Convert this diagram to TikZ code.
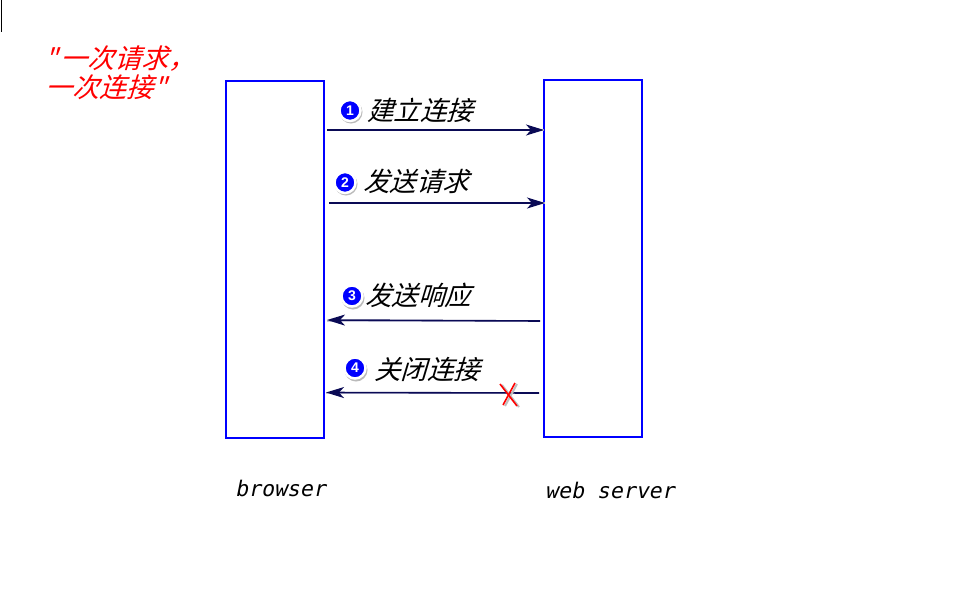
\documentclass[tikz,border=0pt]{standalone}
\usepackage{fontspec}
\usetikzlibrary{arrows.meta,shadows}
\setmainfont{Liberation Sans}
\newfontfamily\cjklabel[FakeSlant=0.3]{Noto Sans CJK SC}
\newfontfamily\monolabel[FakeSlant=0.2]{DejaVu Sans Mono}
\definecolor{navyline}{HTML}{0A0A55}
\definecolor{haze}{HTML}{C8C8DC}
\definecolor{pureblue}{HTML}{0000FF}
\tikzset{
  x=1pt,y=-1pt,
  column/.style={draw=pureblue,line width=2pt,fill=white,minimum width=98pt,minimum height=357pt,inner sep=0pt,outer sep=0pt,anchor=north west},
  msgarrow/.style={draw=navyline,line width=1.6pt,-{Stealth[length=18pt,width=11pt,inset=5pt]}},
  msghalo/.style={draw=haze,line width=2.6pt},
  seqlabel/.style={font=\cjklabel\fontsize{26.5}{26.5}\selectfont,text=black,anchor=west,inner sep=0pt},
  redlabel/.style={font=\cjklabel\fontsize{27}{28}\selectfont,text=red,anchor=west,inner sep=0pt},
  namelabel/.style={font=\monolabel\fontsize{21.5}{21.5}\selectfont,text=black,anchor=west,inner sep=0pt},
  badge/.style={circle,draw=white,line width=2.5pt,fill=pureblue,text=white,minimum size=21pt,inner sep=0pt,font=\bfseries\fontsize{14}{14}\selectfont},
  badgeshadow/.style={circle,fill=black!45,minimum size=23pt,inner sep=0pt},
  crossmark/.style={draw=red,line width=1.6pt},
  crossshadow/.style={draw=black!25,line width=2pt},
}
\begin{document}
\begin{tikzpicture}
\useasboundingbox (0,0) rectangle (956,592);
\fill[white] (0,0) rectangle (956,592);
\coordinate (tick0) at (1,0);
\coordinate (tick1) at (1,32);
\draw[black,line width=1pt] (tick0) -- (tick1);

\node[column] (browser) at (226,81) {};
\node[column] (server) at (544,80) {};

\coordinate (a1s) at (327,130);  \coordinate (a1e) at (544,130);
\coordinate (a2s) at (329,203);  \coordinate (a2e) at (545,203);
\coordinate (a3s) at (540,321);  \coordinate (a3e) at (327,320);
\coordinate (a4s) at (539,393);  \coordinate (a4e) at (326,392.5);
\draw[msghalo] (a1s) -- (a1e |- a1s);
\draw[msghalo] (a2s) -- (a2e |- a2s);
\draw[msghalo] (a3s) -- (a3e |- a3s);
\draw[msghalo] (a4s) -- (a4e |- a4s);
\draw[msgarrow] (a1s) -- (a1e);
\draw[msgarrow] (a2s) -- (a2e);
\draw[msgarrow] (a3s) -- (a3e);
\draw[msgarrow] (a4s) -- (a4e);

\node[badgeshadow,opacity=.6] at (351,112) {};
\node[badgeshadow,opacity=.6] at (346,184) {};
\node[badgeshadow,opacity=.6] at (353,298) {};
\node[badgeshadow,opacity=.6] at (356,370) {};
\node[badge] (b1) at (350,110.5) {1};
\node[badge] (b2) at (345,182.5) {2};
\node[badge] (b3) at (352,296) {3};
\node[badge] (b4) at (355,368) {4};

\node[seqlabel] (l1) at (367,110) {建立连接};
\node[seqlabel] (l2) at (363,181) {发送请求};
\node[seqlabel] (l3) at (365,295) {发送响应};
\node[seqlabel] (l4) at (374,369) {关闭连接};

\node[redlabel] (r1) at (44,59) {"\kern4pt 一次请求，};
\node[redlabel] (r2) at (45,87) {一次连接"};

\node[namelabel] (n1) at (235,488) {browser};
\node[namelabel] (n2) at (545,490) {web server};

\coordinate (x1a) at (500,384); \coordinate (x1b) at (517,406);
\coordinate (x2a) at (515,383); \coordinate (x2b) at (503,405);
\coordinate (x1as) at (502,385); \coordinate (x1bs) at (519,407);
\coordinate (x2as) at (517,384); \coordinate (x2bs) at (505,406);
\draw[crossshadow] (x1as) -- (x1bs);
\draw[crossshadow] (x2as) -- (x2bs);
\draw[crossmark] (x1a) -- (x1b);
\draw[crossmark] (x2a) -- (x2b);
\end{tikzpicture}
\end{document}
